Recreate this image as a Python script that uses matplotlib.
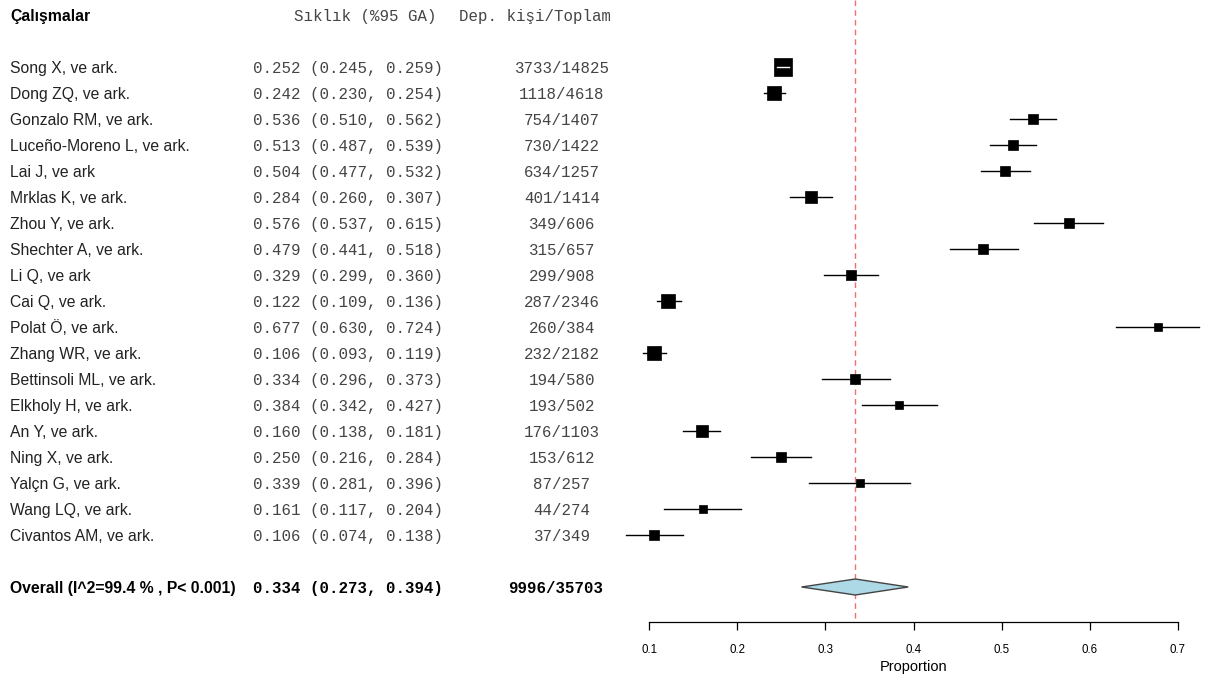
#!/usr/bin/env python3
"""Forest plot: pooled proportion of depression across studies."""
import numpy as np
import matplotlib
matplotlib.use("Agg")
import matplotlib.pyplot as plt
from matplotlib.transforms import blended_transform_factory

studies = ["Song X, ve ark.", "Dong ZQ, ve ark.", "Gonzalo RM, ve ark.", "Luceño-Moreno L, ve ark.",
           "Lai J, ve ark", "Mrklas K, ve ark.", "Zhou Y, ve ark.", "Shechter A, ve ark.",
           "Li Q, ve ark", "Cai Q, ve ark.", "Polat Ö, ve ark.", "Zhang WR, ve ark.",
           "Bettinsoli ML, ve ark.", "Elkholy H, ve ark.", "An Y, ve ark.", "Ning X, ve ark.",
           "Yalçn G, ve ark.", "Wang LQ, ve ark.", "Civantos AM, ve ark."]
est = [0.252, 0.242, 0.536, 0.513, 0.504, 0.284, 0.576, 0.479, 0.329, 0.122,
       0.677, 0.106, 0.334, 0.384, 0.160, 0.250, 0.339, 0.161, 0.106]
lo = [0.245, 0.230, 0.510, 0.487, 0.477, 0.260, 0.537, 0.441, 0.299, 0.109,
      0.630, 0.093, 0.296, 0.342, 0.138, 0.216, 0.281, 0.117, 0.074]
hi = [0.259, 0.254, 0.562, 0.539, 0.532, 0.307, 0.615, 0.518, 0.360, 0.136,
      0.724, 0.119, 0.373, 0.427, 0.181, 0.284, 0.396, 0.204, 0.138]
events = [3733, 1118, 754, 730, 634, 401, 349, 315, 299, 287, 260, 232, 194, 193, 176, 153, 87, 44, 37]
totals = [14825, 4618, 1407, 1422, 1257, 1414, 606, 657, 908, 2346, 384, 2182, 580, 502, 1103, 612, 257, 274, 349]

pooled = (0.334, 0.273, 0.394)
pooled_events, pooled_total = 9996, 35703
i2 = 99.4

W, H = 1209, 680
ROW0, DY = 67, 26                 # pixel y of first row, row spacing
PX_PER_UNIT = 529 / 0.6           # forest x scale

fig = plt.figure(figsize=(W / 100, H / 100), dpi=100)
ax = fig.add_axes([600 / W, 0, 609 / W, 1])
x0 = 0.1 - 49 / PX_PER_UNIT
ax.set_xlim(x0, x0 + 609 / PX_PER_UNIT)
ax.set_ylim((H - ROW0) / DY, -ROW0 / DY)
for s in ["top", "left", "right"]:
    ax.spines[s].set_visible(False)
ax.set_yticks([])

axis_row = (622 - ROW0) / DY
ax.spines["bottom"].set_position(("data", axis_row))
ax.spines["bottom"].set_bounds(0.1, 0.7)
ax.spines["bottom"].set_linewidth(0.9)
ax.set_xticks(np.arange(0.1, 0.71, 0.1))
ax.set_xticklabels([f"{v:.1f}" for v in np.arange(0.1, 0.71, 0.1)])
ax.tick_params(axis="x", direction="out", length=6, width=0.9, pad=10, labelsize=8.3)
for lab in ax.get_xticklabels():
    lab.set_family("Liberation Sans")
ax.text(0.4, (667 - ROW0) / DY, "Proportion", ha="center", va="center",
        fontsize=10.5, family="Liberation Sans")

# reference line at pooled estimate
ax.plot([pooled[0]] * 2, [ax.get_ylim()[1], axis_row], ls=(0, (4, 3)), color="#ee7070", lw=1, zorder=1)

sans = dict(family="Liberation Sans", fontsize=11.3)
mono = dict(family="Liberation Mono", fontsize=11.3)
tr = blended_transform_factory(fig.transFigure, ax.transData)
fx = lambda p: p / W
dy = 0.05  # nudge text down a touch

ax.text(fx(10), -2 + dy, "Çalışmalar", transform=tr, ha="left", va="center", weight="bold", **sans)
ax.text(fx(294), -2 + dy, "Sıklık (%95 GA)", transform=tr, ha="left", va="center", color="#444", **mono)
ax.text(fx(611), -2 + dy, "Dep. kişi/Toplam", transform=tr, ha="right", va="center", color="#444", **mono)

se = (np.array(hi) - np.array(lo)) / 3.92
box_px = 2 + se ** -0.5
for i, name in enumerate(studies):
    ax.text(fx(10), i + dy, name, transform=tr, ha="left", va="center", color="#222", **sans)
    ax.text(fx(253), i + dy, f"{est[i]:.3f} ({lo[i]:.3f}, {hi[i]:.3f})", transform=tr,
            ha="left", va="center", color="#444", **mono)
    ax.text(fx(562), i + dy, f"{events[i]}/{totals[i]}", transform=tr, ha="center", va="center",
            color="#444", **mono)
    ax.plot([lo[i], hi[i]], [i, i], color="black", lw=1, zorder=2)
    ax.plot(est[i], i, marker="s", ms=box_px[i] * 0.72, color="black", mec="black", mew=0.5, zorder=3)
    if (hi[i] - lo[i]) * PX_PER_UNIT < box_px[i]:
        ax.plot([lo[i], hi[i]], [i, i], color="white", lw=1, zorder=4)

k = len(studies) + 1
ax.text(fx(10), k + dy, f"Overall (I^2={i2} % , P< 0.001)", transform=tr, ha="left", va="center",
        weight="bold", **sans)
ax.text(fx(253), k + dy, f"{pooled[0]:.3f} ({pooled[1]:.3f}, {pooled[2]:.3f})", transform=tr,
        ha="left", va="center", weight="bold", **mono)
ax.text(fx(556), k + dy, f"{pooled_events}/{pooled_total}", transform=tr, ha="center", va="center",
        weight="bold", **mono)
h = 8 / DY
ax.fill([pooled[1], pooled[0], pooled[2], pooled[0]], [k, k - h, k, k + h],
        facecolor="#add8e6", edgecolor="#444", lw=1, zorder=3)

fig.savefig("out.png", dpi=100)
